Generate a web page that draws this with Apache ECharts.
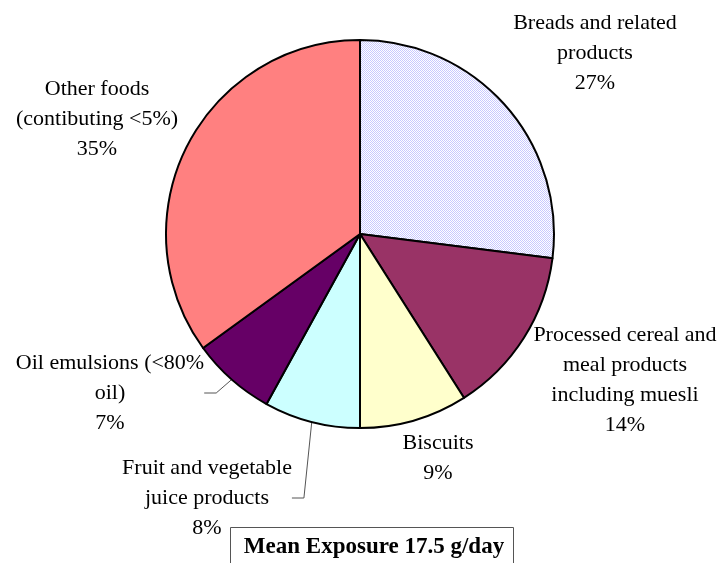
<!DOCTYPE html>
<html><head><meta charset="utf-8">
<script src="https://cdn.jsdelivr.net/npm/echarts@6/dist/echarts.min.js"></script>
<style>html,body{margin:0;padding:0;background:#fff}#c{width:722px;height:563px}</style>
</head><body><div id="c"></div>
<script>
var categories = ["Breads and related\nproducts", "Processed cereal and\nmeal products\nincluding muesli", "Biscuits", "Fruit and vegetable\njuice products", "Oil emulsions (<80%\noil)", "Other foods\n(contibuting <5%)"];
var shares = [27, 14, 9, 8, 7, 35];
var caption = "Mean Exposure 17.5 g/day";

var sliceColors = [null, '#993366', '#ffffcc', '#ccffff', '#660066', '#ff8080'];
var labelAnchors = [[595, 8], [625, 320], [438, 428], [207, 453], [110, 348], [97, 74]];
var withLine = [false, false, false, true, true, false];

// dotted lavender pattern
var pc = document.createElement('canvas'); pc.width = 2; pc.height = 2;
var pctx = pc.getContext('2d');
pctx.fillStyle = '#ffffff'; pctx.fillRect(0, 0, 2, 2);
pctx.fillStyle = '#c8c8ff'; pctx.fillRect(0, 0, 1, 1); pctx.fillRect(1, 1, 1, 1);
sliceColors[0] = { image: pc, repeat: 'repeat' };

var data = categories.map(function (n, i) {
  return {
    name: n, value: shares[i],
    itemStyle: { color: sliceColors[i] },
    labelLine: { show: withLine[i] }
  };
});

var chart = echarts.init(document.getElementById('c'), null, { renderer: 'canvas' });
chart.setOption({
  animation: false,
  backgroundColor: '#fff',
  series: [{
    type: 'pie',
    center: [360, 234],
    radius: 194,
    startAngle: 90,
    clockwise: true,
    data: data,
    itemStyle: { borderColor: '#000', borderWidth: 2 },
    label: {
      show: true,
      formatter: function (p) { return p.name + '\n' + p.value + '%'; },
      fontFamily: 'Liberation Serif',
      fontSize: 22,
      lineHeight: 30,
      color: '#000',
      align: 'center',
      overflow: 'none'
    },
    labelLine: { show: false, lineStyle: { color: '#555', width: 1 }, length: 10, length2: 12 },
    labelLayout: function (p) {
      var a = labelAnchors[p.dataIndex];
      return { x: a[0], y: a[1], align: 'center', verticalAlign: 'top', moveOverlap: false };
    }
  }],
  graphic: [{
    type: 'rect', shape: { x: 230.5, y: 527.5, width: 283, height: 50 },
    style: { fill: '#fff', stroke: '#555', lineWidth: 1 }, z: 10
  }, {
    type: 'text', x: 374, y: 547, z: 11,
    style: { text: caption, fontFamily: 'Liberation Serif', fontWeight: 'bold', fontSize: 23,
      fill: '#000', align: 'center', verticalAlign: 'middle' }
  }]
});
</script></body></html>
